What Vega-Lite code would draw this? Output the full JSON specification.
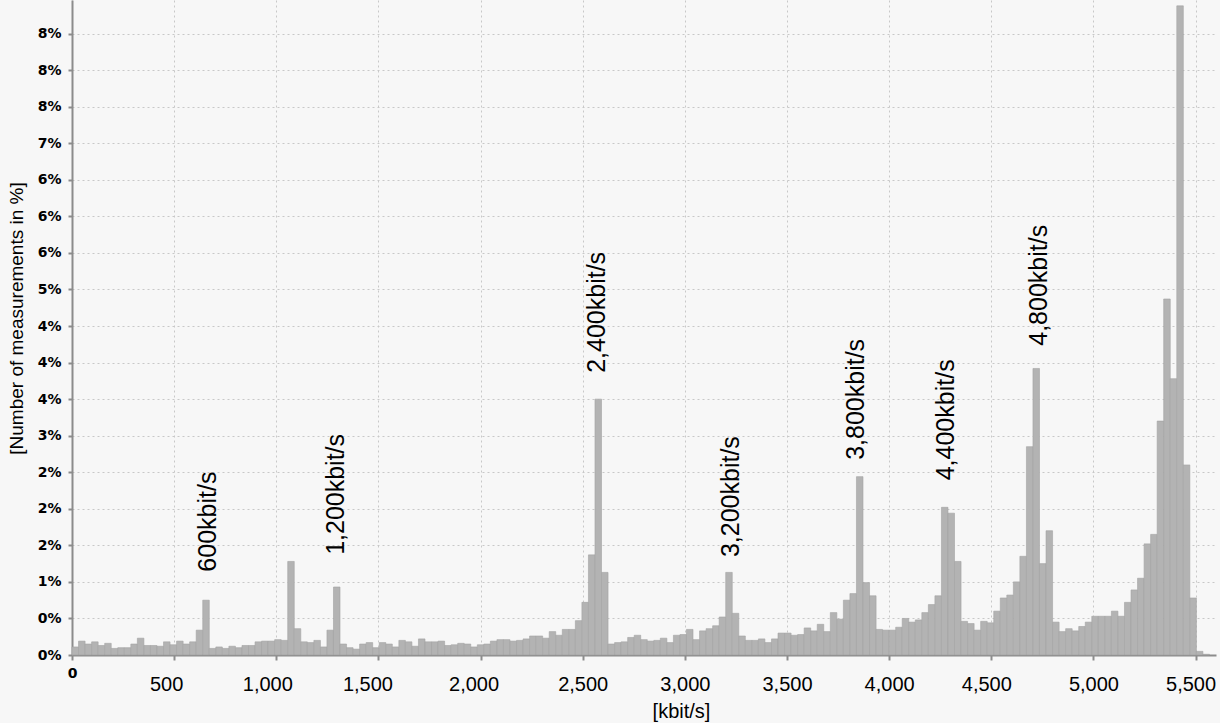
{
  "$schema": "https://vega.github.io/schema/vega-lite/v6.json",
  "width": 1144,
  "height": 655,
  "autosize": {"type": "none"},
  "padding": {"left": 72, "top": 0, "right": 4, "bottom": 68},
  "background": "#f7f7f7",
  "config": {"view": {"stroke": null}, "font": "Liberation Sans"},
  "datasets": {
    "bars": [
      {"from":0,"to":32,"pct":0.11},{"from":32,"to":64,"pct":0.19},{"from":64,"to":96,"pct":0.15},{"from":96,"to":128,"pct":0.18},
      {"from":128,"to":160,"pct":0.13},{"from":160,"to":192,"pct":0.16},{"from":192,"to":224,"pct":0.09},{"from":224,"to":256,"pct":0.10},
      {"from":256,"to":288,"pct":0.10},{"from":288,"to":320,"pct":0.15},{"from":320,"to":352,"pct":0.23},{"from":352,"to":384,"pct":0.13},
      {"from":384,"to":416,"pct":0.13},{"from":416,"to":448,"pct":0.12},{"from":448,"to":480,"pct":0.18},{"from":480,"to":512,"pct":0.14},
      {"from":512,"to":544,"pct":0.19},{"from":544,"to":576,"pct":0.15},{"from":576,"to":608,"pct":0.18},{"from":608,"to":640,"pct":0.34},
      {"from":640,"to":672,"pct":0.75},{"from":672,"to":704,"pct":0.09},{"from":704,"to":736,"pct":0.11},{"from":736,"to":768,"pct":0.09},
      {"from":768,"to":800,"pct":0.12},{"from":800,"to":832,"pct":0.10},{"from":832,"to":864,"pct":0.13},{"from":864,"to":896,"pct":0.13},
      {"from":896,"to":928,"pct":0.18},{"from":928,"to":960,"pct":0.19},{"from":960,"to":992,"pct":0.19},{"from":992,"to":1024,"pct":0.21},
      {"from":1024,"to":1056,"pct":0.20},{"from":1056,"to":1088,"pct":1.28},{"from":1088,"to":1120,"pct":0.36},{"from":1120,"to":1152,"pct":0.18},
      {"from":1152,"to":1184,"pct":0.17},{"from":1184,"to":1216,"pct":0.20},{"from":1216,"to":1248,"pct":0.11},{"from":1248,"to":1280,"pct":0.34},
      {"from":1280,"to":1312,"pct":0.93},{"from":1312,"to":1344,"pct":0.15},{"from":1344,"to":1376,"pct":0.10},{"from":1376,"to":1408,"pct":0.08},
      {"from":1408,"to":1440,"pct":0.15},{"from":1440,"to":1472,"pct":0.17},{"from":1472,"to":1504,"pct":0.10},{"from":1504,"to":1536,"pct":0.17},
      {"from":1536,"to":1568,"pct":0.15},{"from":1568,"to":1600,"pct":0.11},{"from":1600,"to":1632,"pct":0.20},{"from":1632,"to":1664,"pct":0.18},
      {"from":1664,"to":1696,"pct":0.12},{"from":1696,"to":1728,"pct":0.22},{"from":1728,"to":1760,"pct":0.18},{"from":1760,"to":1792,"pct":0.18},
      {"from":1792,"to":1824,"pct":0.19},{"from":1824,"to":1856,"pct":0.13},{"from":1856,"to":1888,"pct":0.14},{"from":1888,"to":1920,"pct":0.16},
      {"from":1920,"to":1952,"pct":0.15},{"from":1952,"to":1984,"pct":0.11},{"from":1984,"to":2016,"pct":0.14},{"from":2016,"to":2048,"pct":0.15},
      {"from":2048,"to":2080,"pct":0.19},{"from":2080,"to":2112,"pct":0.21},{"from":2112,"to":2144,"pct":0.21},{"from":2144,"to":2176,"pct":0.19},
      {"from":2176,"to":2208,"pct":0.20},{"from":2208,"to":2240,"pct":0.22},{"from":2240,"to":2272,"pct":0.26},{"from":2272,"to":2304,"pct":0.26},
      {"from":2304,"to":2336,"pct":0.23},{"from":2336,"to":2368,"pct":0.32},{"from":2368,"to":2400,"pct":0.27},{"from":2400,"to":2432,"pct":0.35},
      {"from":2432,"to":2464,"pct":0.35},{"from":2464,"to":2496,"pct":0.47},{"from":2496,"to":2528,"pct":0.72},{"from":2528,"to":2560,"pct":1.37},
      {"from":2560,"to":2592,"pct":3.50},{"from":2592,"to":2624,"pct":1.13},{"from":2624,"to":2656,"pct":0.15},{"from":2656,"to":2688,"pct":0.17},
      {"from":2688,"to":2720,"pct":0.18},{"from":2720,"to":2752,"pct":0.24},{"from":2752,"to":2784,"pct":0.27},{"from":2784,"to":2816,"pct":0.21},
      {"from":2816,"to":2848,"pct":0.19},{"from":2848,"to":2880,"pct":0.20},{"from":2880,"to":2912,"pct":0.23},{"from":2912,"to":2944,"pct":0.17},
      {"from":2944,"to":2976,"pct":0.27},{"from":2976,"to":3008,"pct":0.28},{"from":3008,"to":3040,"pct":0.35},{"from":3040,"to":3072,"pct":0.21},
      {"from":3072,"to":3104,"pct":0.33},{"from":3104,"to":3136,"pct":0.36},{"from":3136,"to":3168,"pct":0.40},{"from":3168,"to":3200,"pct":0.52},
      {"from":3200,"to":3232,"pct":1.13},{"from":3232,"to":3264,"pct":0.57},{"from":3264,"to":3296,"pct":0.26},{"from":3296,"to":3328,"pct":0.20},
      {"from":3328,"to":3360,"pct":0.20},{"from":3360,"to":3392,"pct":0.22},{"from":3392,"to":3424,"pct":0.17},{"from":3424,"to":3456,"pct":0.22},
      {"from":3456,"to":3488,"pct":0.30},{"from":3488,"to":3520,"pct":0.30},{"from":3520,"to":3552,"pct":0.27},{"from":3552,"to":3584,"pct":0.28},
      {"from":3584,"to":3616,"pct":0.37},{"from":3616,"to":3648,"pct":0.33},{"from":3648,"to":3680,"pct":0.42},{"from":3680,"to":3712,"pct":0.32},
      {"from":3712,"to":3744,"pct":0.58},{"from":3744,"to":3776,"pct":0.49},{"from":3776,"to":3808,"pct":0.75},{"from":3808,"to":3840,"pct":0.84},
      {"from":3840,"to":3872,"pct":2.44},{"from":3872,"to":3904,"pct":0.99},{"from":3904,"to":3936,"pct":0.81},{"from":3936,"to":3968,"pct":0.35},
      {"from":3968,"to":4000,"pct":0.34},{"from":4000,"to":4032,"pct":0.34},{"from":4032,"to":4064,"pct":0.38},{"from":4064,"to":4096,"pct":0.50},
      {"from":4096,"to":4128,"pct":0.45},{"from":4128,"to":4160,"pct":0.48},{"from":4160,"to":4192,"pct":0.58},{"from":4192,"to":4224,"pct":0.69},
      {"from":4224,"to":4256,"pct":0.81},{"from":4256,"to":4288,"pct":2.02},{"from":4288,"to":4320,"pct":1.94},{"from":4320,"to":4352,"pct":1.28},
      {"from":4352,"to":4384,"pct":0.46},{"from":4384,"to":4416,"pct":0.43},{"from":4416,"to":4448,"pct":0.34},{"from":4448,"to":4480,"pct":0.46},
      {"from":4480,"to":4512,"pct":0.44},{"from":4512,"to":4544,"pct":0.60},{"from":4544,"to":4576,"pct":0.78},{"from":4576,"to":4608,"pct":0.82},
      {"from":4608,"to":4640,"pct":1.00},{"from":4640,"to":4672,"pct":1.35},{"from":4672,"to":4704,"pct":2.85},{"from":4704,"to":4736,"pct":3.92},
      {"from":4736,"to":4768,"pct":1.25},{"from":4768,"to":4800,"pct":1.70},{"from":4800,"to":4832,"pct":0.45},{"from":4832,"to":4864,"pct":0.32},
      {"from":4864,"to":4896,"pct":0.36},{"from":4896,"to":4928,"pct":0.33},{"from":4928,"to":4960,"pct":0.39},{"from":4960,"to":4992,"pct":0.45},
      {"from":4992,"to":5024,"pct":0.53},{"from":5024,"to":5056,"pct":0.53},{"from":5056,"to":5088,"pct":0.53},{"from":5088,"to":5120,"pct":0.60},
      {"from":5120,"to":5152,"pct":0.53},{"from":5152,"to":5184,"pct":0.72},{"from":5184,"to":5216,"pct":0.89},{"from":5216,"to":5248,"pct":1.05},
      {"from":5248,"to":5280,"pct":1.52},{"from":5280,"to":5312,"pct":1.65},{"from":5312,"to":5344,"pct":3.20},{"from":5344,"to":5376,"pct":4.87},
      {"from":5376,"to":5408,"pct":3.78},{"from":5408,"to":5440,"pct":8.88},{"from":5440,"to":5472,"pct":2.60},{"from":5472,"to":5504,"pct":0.78},
      {"from":5504,"to":5536,"pct":0.05},{"from":5536,"to":5568,"pct":0.01}
    ],
    "notes": [
      {"label":"600kbit/s","kbit":668,"pct":1.14},
      {"label":"1,200kbit/s","kbit":1292,"pct":1.37},
      {"label":"2,400kbit/s","kbit":2569,"pct":3.86},
      {"label":"3,200kbit/s","kbit":3224,"pct":1.34},
      {"label":"3,800kbit/s","kbit":3840,"pct":2.67},
      {"label":"4,400kbit/s","kbit":4276,"pct":2.39},
      {"label":"4,800kbit/s","kbit":4736,"pct":4.23}
    ]
  },
  "layer": [
    {
      "data": {"name": "bars"},
      "mark": {"type": "rect", "fill": "#b3b3b3", "stroke": "#a3a3a3", "strokeWidth": 0.6},
      "encoding": {
        "x": {
          "field": "from", "type": "quantitative",
          "scale": {"domain": [0, 5600], "nice": false, "zero": false},
          "axis": {
            "values": [0, 500, 1000, 1500, 2000, 2500, 3000, 3500, 4000, 4500, 5000, 5500],
            "tickCount": 40,
            "format": ",d",
            "labelFont": {"condition": {"test": "datum.value == 0", "value": "DejaVu Sans"}, "value": "Liberation Sans"},
            "labelFontSize": {"condition": {"test": "datum.value == 0", "value": 14}, "value": 20},
            "labelFontWeight": {"condition": {"test": "datum.value == 0", "value": "bold"}, "value": "normal"},
            "labelPadding": {"condition": {"test": "datum.value == 0", "value": 17}, "value": 30},
            "labelOffset": {"condition": [
              {"test": "datum.value == 500", "value": -8},
              {"test": "datum.value == 1000", "value": -9},
              {"test": "datum.value == 1500", "value": -11},
              {"test": "datum.value == 2000", "value": -7},
              {"test": "datum.value == 4500", "value": -5},
              {"test": "datum.value == 5500", "value": -5}
            ], "value": 0},
            "labelBaseline": "alphabetic",
            "labelColor": "#000000",
            "labelFlush": false,
            "labelOverlap": false,
            "domainColor": "#8c8c8c", "domainWidth": 2,
            "tickColor": "#8c8c8c", "tickSize": 5, "tickWidth": 2,
            "grid": true, "gridColor": "#c8c8c8", "gridDash": [2, 3], "gridWidth": 1,
            "title": "[kbit/s]",
            "titleFont": "Liberation Sans", "titleFontSize": 20, "titleFontWeight": "normal", "titleColor": "#000000",
            "titleX": 609, "titleY": 62, "titleAlign": "center", "titleBaseline": "alphabetic"
          }
        },
        "x2": {"field": "to"},
        "y": {
          "field": "pct", "type": "quantitative",
          "scale": {"domain": [0, 8.96], "nice": false},
          "axis": {
            "values": [0, 0.5, 1, 1.5, 2, 2.5, 3, 3.5, 4, 4.5, 5, 5.5, 6, 6.5, 7, 7.5, 8, 8.5],
            "tickCount": 40,
            "labelExpr": "(datum.value % 1 == 0.5 && floor(datum.value) % 2 == 0 ? floor(datum.value) : round(datum.value)) + '%'",
            "labelFont": "DejaVu Sans", "labelFontWeight": "bold", "labelFontSize": 14, "labelColor": "#000000",
            "labelPadding": 7,
            "labelOverlap": false,
            "domainColor": "#8c8c8c", "domainWidth": 2,
            "tickColor": "#8c8c8c", "tickSize": 4, "tickWidth": 2,
            "grid": true, "gridColor": "#c8c8c8", "gridDash": [2, 3], "gridWidth": 1,
            "title": "[Number of measurements in %]",
            "titleFont": "Liberation Sans", "titleFontSize": 19, "titleFontWeight": "normal", "titleColor": "#000000",
            "titleAngle": 270, "titleX": -56, "titleY": 318, "titleAlign": "center", "titleBaseline": "middle"
          }
        },
        "y2": {"datum": 0}
      }
    },
    {
      "data": {"name": "notes"},
      "mark": {"type": "text", "angle": 270, "align": "left", "baseline": "middle", "font": "Liberation Sans", "fontSize": 25, "color": "#000000"},
      "encoding": {
        "x": {"field": "kbit", "type": "quantitative"},
        "y": {"field": "pct", "type": "quantitative"},
        "text": {"field": "label"}
      }
    }
  ]
}
